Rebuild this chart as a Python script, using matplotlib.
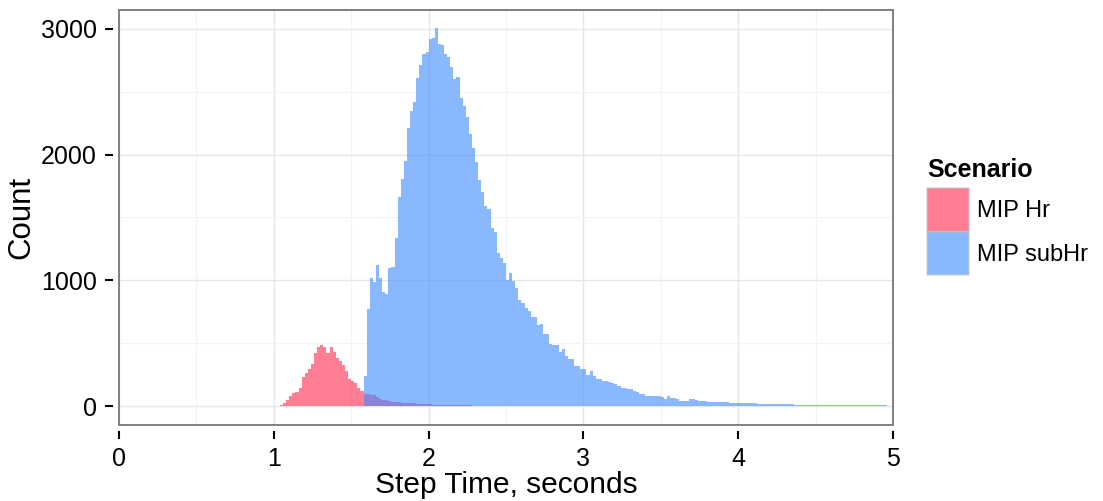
import numpy as np
import matplotlib
matplotlib.use("Agg")
import matplotlib.pyplot as plt
from matplotlib.patches import Patch, Rectangle
from matplotlib.ticker import MultipleLocator

plt.rcParams['font.family'] = ['Liberation Sans', 'DejaVu Sans']

# histogram data, bin width 0.02 s
bin_width = 0.02
scenarios = ['MIP Hr', 'MIP subHr']

hr_start = 1.02
hr_counts = [5, 10, 25, 47, 82, 108, 113, 148, 235, 266, 293, 332, 425, 472, 488,
             472, 425, 472, 430, 385, 359, 325, 280, 219, 201, 182, 148, 120, 95, 95,
             92, 90, 75, 55, 50, 48, 40, 36, 34, 30, 28, 26, 24, 22, 22, 20, 18, 16,
             15, 14, 13, 12, 12, 11, 10, 10, 9, 8, 8, 7, 7, 6, 6, 5, 5, 4, 4, 3, 3, 3,
             2, 2, 2, 2, 1, 1]

subhr_start = 1.58
subhr_counts = [237, 770, 1020, 990, 1125, 1020, 905, 890, 1100, 1110, 1340, 1665,
                1805, 1950, 2215, 2345, 2420, 2610, 2710, 2800, 2815, 2920, 2930, 3005,
                2880, 2870, 2800, 2780, 2695, 2605, 2615, 2450, 2390, 2300, 2165, 2050,
                1940, 1800, 1700, 1590, 1570, 1415, 1388, 1217, 1177, 1138, 1000, 1058,
                992, 940, 847, 821, 781, 755, 710, 710, 649, 657, 570, 570, 491, 483,
                483, 430, 451, 398, 372, 372, 319, 319, 298, 298, 245, 280, 240, 214,
                214, 201, 201, 193, 185, 174, 160, 148, 148, 135, 135, 121, 110, 95, 95,
                84, 82, 82, 78, 77, 76, 55, 77, 68, 61, 58, 44, 42, 43, 55, 60, 45, 42,
                41, 38, 35, 34, 33, 32, 31, 30, 30, 28, 27, 26, 25, 23, 22, 22, 21, 21,
                20, 19, 19, 18, 17, 17, 16, 16, 15, 15, 14, 14, 13, 13, 13, 12, 12, 12,
                11, 11, 11, 10, 10, 10, 10, 9, 9, 9, 9, 8, 8, 8, 8, 7, 7, 7, 7, 6, 6, 6,
                6, 6, 5, 5]

red = (1.0, 0.16, 0.30)
blue = (0.24, 0.54, 1.0)
alpha = 0.6

fig = plt.figure(figsize=(11.03, 5.01), dpi=100)
ax = fig.add_axes([119 / 1103, 1 - 425 / 501, (893 - 119) / 1103, (425 - 10) / 501])

hr_left = hr_start + bin_width * np.arange(len(hr_counts))
sub_left = subhr_start + bin_width * np.arange(len(subhr_counts))
ax.bar(hr_left, hr_counts, width=bin_width, align='edge', color=red, alpha=alpha,
       linewidth=0, zorder=2)
ax.bar(sub_left, subhr_counts, width=bin_width, align='edge', color=blue, alpha=alpha,
       linewidth=0, zorder=3)

ax.set_xlim(0, 5)
ax.set_ylim(-150, 3150)
ax.xaxis.set_major_locator(MultipleLocator(1))
ax.xaxis.set_minor_locator(MultipleLocator(0.5))
ax.yaxis.set_major_locator(MultipleLocator(1000))
ax.yaxis.set_minor_locator(MultipleLocator(500))
ax.grid(which='major', color='#e6e6e6', linewidth=1.0, zorder=0)
ax.grid(which='minor', color='#f3f3f3', linewidth=0.8, zorder=0)
ax.set_axisbelow(True)

for s in ax.spines.values():
    s.set_visible(False)
ax.spines['left'].set_position(('outward', 4))
ax.spines['bottom'].set_position(('outward', 4))
ax.add_patch(Rectangle((0, 0), 1, 1, transform=ax.transAxes, fill=False,
                       edgecolor='#808080', linewidth=1.4, clip_on=False, zorder=5))

ax.tick_params(which='major', direction='out', length=6, width=1.5, color='black',
               labelsize=18, pad=6, labelcolor='black')
ax.tick_params(which='minor', length=0)

ax.set_xlabel('Step Time, seconds', fontsize=21.5, labelpad=0)
ax.set_ylabel('Count', fontsize=22.5, labelpad=3)

handles = [Patch(facecolor=red, alpha=alpha, edgecolor='#c8c8c8', linewidth=1.2),
           Patch(facecolor=blue, alpha=alpha, edgecolor='#c8c8c8', linewidth=1.2)]
leg = fig.legend(handles, scenarios, loc='upper left', bbox_to_anchor=(927 / 1103, 1 - 158 / 501),
                 frameon=False, fontsize=17, title='Scenario',
                 title_fontproperties={'weight': 'bold', 'size': 18},
                 handlelength=1.8, handleheight=2.45, labelspacing=0, handletextpad=0.3,
                 borderpad=0, borderaxespad=0, alignment='left')
leg._legend_box.sep = 4.5  # gap between title and keys

fig.savefig('out.png', dpi=100)
